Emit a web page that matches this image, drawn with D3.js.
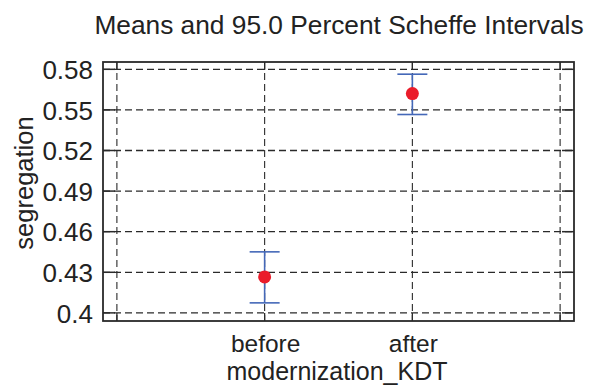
<!DOCTYPE html>
<html><head><meta charset="utf-8">
<script src="https://cdn.jsdelivr.net/npm/d3@7"></script>
<style>body{margin:0;background:#fff}svg{display:block}</style>
</head><body>
<script>
const categories = ["before", "after"];
const means = [0.4266, 0.5621];
const lower = [0.4074, 0.5466];
const upper = [0.4451, 0.5764];
const yTicks = [0.40, 0.43, 0.46, 0.49, 0.52, 0.55, 0.58];
const yTickLabels = ["0.4", "0.43", "0.46", "0.49", "0.52", "0.55", "0.58"];
const title = "Means and 95.0 Percent Scheffe Intervals";
const xTitle = "modernization_KDT";
const yTitle = "segregation";

const W = 594, H = 388;
const L = 103, R = 574, T = 62, B = 321;
const font = "'Liberation Sans', Arial, sans-serif";
const svg = d3.select("body").append("svg").attr("width", W).attr("height", H);

const x = d3.scaleLinear().domain([-0.094, categories.length + 1.094]).range([L, R]);
const y = d3.scaleLinear().domain([0.394, 0.5854]).range([B, T]);
const xGrid = d3.range(0, categories.length + 2);

const ink = "#2a2a2a";
// grid
svg.append("g").selectAll("line").data(yTicks).join("line")
  .attr("x1", L).attr("x2", R).attr("y1", d => y(d)).attr("y2", d => y(d))
  .attr("stroke", ink).attr("stroke-width", 1.3).attr("stroke-dasharray", "7,4");
svg.append("g").selectAll("line").data(xGrid).join("line")
  .attr("y1", T).attr("y2", B).attr("x1", d => x(d)).attr("x2", d => x(d))
  .attr("stroke", ink).attr("stroke-width", 1.1).attr("stroke-dasharray", "7,4");

// inward ticks
const tl = 12;
svg.append("g").selectAll("line").data(yTicks).join("line")
  .attr("x1", L).attr("x2", L + tl).attr("y1", d => y(d)).attr("y2", d => y(d))
  .attr("stroke", ink).attr("stroke-width", 1.5);
svg.append("g").selectAll("line").data(yTicks).join("line")
  .attr("x1", R).attr("x2", R - tl).attr("y1", d => y(d)).attr("y2", d => y(d))
  .attr("stroke", ink).attr("stroke-width", 1.5);
svg.append("g").selectAll("line").data(xGrid).join("line")
  .attr("y1", B).attr("y2", B - 8).attr("x1", d => x(d)).attr("x2", d => x(d))
  .attr("stroke", ink).attr("stroke-width", 1.3);
svg.append("g").selectAll("line").data(xGrid).join("line")
  .attr("y1", T).attr("y2", T + 8).attr("x1", d => x(d)).attr("x2", d => x(d))
  .attr("stroke", ink).attr("stroke-width", 1.3);

// frame
svg.append("rect").attr("x", L).attr("y", T).attr("width", R - L).attr("height", B - T)
  .attr("fill", "none").attr("stroke", ink).attr("stroke-width", 1.8);

// y tick labels
svg.append("g").selectAll("text").data(yTicks).join("text")
  .attr("x", L - 10).attr("y", d => y(d)).attr("dy", "0.37em")
  .attr("text-anchor", "end").attr("font-family", font).attr("font-size", 26).attr("fill", "#222")
  .text((d, i) => yTickLabels[i]);

// x labels
svg.append("g").selectAll("text").data(categories).join("text")
  .attr("x", (d, i) => x(i + 1) + 1).attr("y", 352)
  .attr("text-anchor", "middle").attr("font-family", font).attr("font-size", 24.5).attr("fill", "#222")
  .text(d => d);

svg.append("text").attr("x", 337).attr("y", 380).attr("text-anchor", "middle")
  .attr("font-family", font).attr("font-size", 25).attr("fill", "#222").text(xTitle);
svg.append("text").attr("transform", "translate(33,183) rotate(-90)").attr("text-anchor", "middle")
  .attr("font-family", font).attr("font-size", 25.5).attr("fill", "#222").text(yTitle);
svg.append("text").attr("x", 339).attr("y", 34).attr("text-anchor", "middle")
  .attr("font-family", font).attr("font-size", 26.3).attr("fill", "#222").text(title);

// error bars
const blue = "#4468b8";
const g = svg.append("g");
categories.forEach((c, i) => {
  const cx = x(i + 1);
  g.append("line").attr("x1", cx).attr("x2", cx).attr("y1", y(lower[i])).attr("y2", y(upper[i]))
    .attr("stroke", blue).attr("stroke-width", 1.6);
  [lower[i], upper[i]].forEach(v => {
    g.append("line").attr("x1", cx - 15).attr("x2", cx + 15).attr("y1", y(v)).attr("y2", y(v))
      .attr("stroke", blue).attr("stroke-width", 1.6);
  });
});
g.selectAll("circle").data(means).join("circle")
  .attr("cx", (d, i) => x(i + 1)).attr("cy", d => y(d)).attr("r", 6.5).attr("fill", "#ea1c2a");
</script>
</body></html>
